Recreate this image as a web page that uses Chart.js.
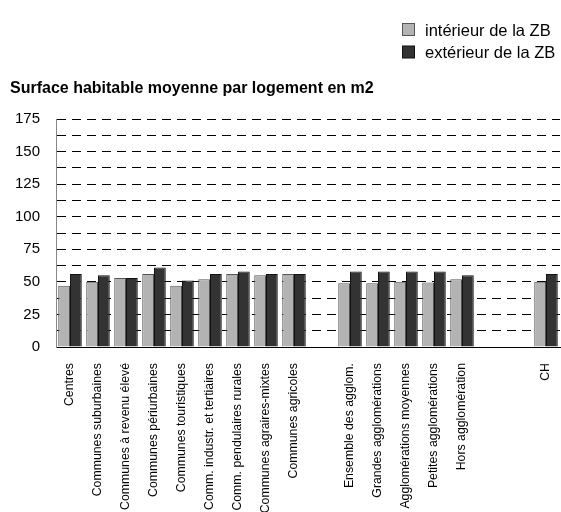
<!DOCTYPE html>
<html>
<head>
<meta charset="utf-8">
<script src="https://cdn.jsdelivr.net/npm/chart.js@4.4.1/dist/chart.umd.min.js"></script>
<style>
  html, body { margin: 0; padding: 0; background: #fff; }
  #wrap { width: 561px; height: 512px; position: relative; }
</style>
</head>
<body>
<div id="wrap"><canvas id="chart"></canvas></div>
<script>
// categories ('' = empty slot in the original layout)
const categories = [
  'Centres', 'Communes suburbaines', 'Communes à revenu élevé', 'Communes périurbaines',
  'Communes touristiques', 'Comm. industr. et tertiaires', 'Comm. pendulaires rurales',
  'Communes agraires-mixtes', 'Communes agricoles', '',
  'Ensemble des agglom.', 'Grandes agglomérations', 'Agglomérations moyennes',
  'Petites agglomérations', 'Hors agglomération', '', '', 'CH'
];
const interieur = [47, 50, 53, 56, 47, 52, 56, 55, 56, null, 49, 49, 50, 49.5, 52, null, null, 50];
const exterieur = [56, 55, 53, 61, 51, 56, 58, 56, 56, null, 58, 58, 58, 58, 55, null, null, 56];
const yTicks = [0, 25, 50, 75, 100, 125, 150, 175];

const TITLE = 'Surface habitable moyenne par logement en m2';
const LIGHT = '#b3b3b3';
const DARK = '#333333';
const FONT = "'Liberation Sans', Arial, sans-serif";

const headerPlugin = {
  id: 'header',
  afterDraw(chart) {
    const { ctx } = chart;
    ctx.save();
    // title
    ctx.font = `bold 16px ${FONT}`;
    ctx.fillStyle = '#000';
    ctx.textAlign = 'left';
    ctx.textBaseline = 'middle';
    ctx.fillText(TITLE, 10, 89);
    // legend
    const rows = [[LIGHT, '#555', 'intérieur de la ZB'], [DARK, '#111', 'extérieur de la ZB']];
    ctx.font = `16.5px ${FONT}`;
    rows.forEach(([fill, stroke, text], i) => {
      const y = 30 + i * 22.5;
      ctx.fillStyle = fill;
      ctx.strokeStyle = stroke;
      ctx.lineWidth = 1;
      ctx.fillRect(402.5, y - 6.5, 12, 12);
      ctx.strokeRect(402.5, y - 6.5, 12, 12);
      ctx.fillStyle = '#000';
      ctx.fillText(text, 425, y + 1);
    });
    ctx.restore();
  }
};

new Chart(document.getElementById('chart'), {
  type: 'bar',
  plugins: [headerPlugin],
  data: {
    labels: categories,
    datasets: [
      { label: 'intérieur de la ZB', data: interieur, backgroundColor: LIGHT, borderColor: '#555', borderWidth: 1 },
      { label: 'extérieur de la ZB', data: exterieur, backgroundColor: DARK, borderColor: '#111', borderWidth: 1 },
    ],
  },
  options: {
    responsive: true,
    maintainAspectRatio: false,
    animation: false,
    categoryPercentage: 0.84,
    barPercentage: 1,
    layout: { padding: { top: 119, right: 1, left: 0, bottom: 0 } },
    plugins: {
      legend: { display: false },
      tooltip: { enabled: false },
    },
    scales: {
      x: {
        grid: { display: false },
        border: { color: '#000', width: 1 },
        ticks: {
          color: '#000', font: { family: FONT, size: 12.3 },
          minRotation: 90, maxRotation: 90, autoSkip: false, padding: 8,
        },
        afterFit(scale) {
          scale.height = 165;
          scale.paddingLeft = 0;
          scale.paddingRight = 0;
        },
      },
      y: {
        min: 0,
        max: 175,
        grid: { color: '#000', drawTicks: false },
        border: { color: '#888', width: 1, dash: [9, 6] },
        ticks: {
          stepSize: 12.5,
          autoSkip: false,
          color: '#000',
          font: { family: FONT, size: 15 },
          padding: 16,
          callback: v => (yTicks.includes(v) ? v : ''),
        },
        afterFit(scale) { scale.width = 56; },
      },
    },
  },
});
</script>
</body>
</html>
